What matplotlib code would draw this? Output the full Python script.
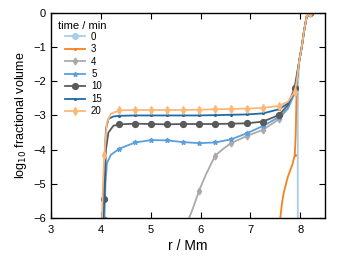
import numpy as np
import matplotlib
matplotlib.use("Agg")
import matplotlib.pyplot as plt

plt.rcParams['font.family'] = ['Liberation Sans', 'DejaVu Sans']

# Marker positions (r / Mm)
r_marks = [4.07, 4.37, 4.69, 5.01, 5.33, 5.65, 5.97, 6.29, 6.61, 6.93, 7.25, 7.57, 7.89, 8.2]

top_r = [7.93, 7.98, 8.03, 8.08, 8.13, 8.2]
top_y = [-2.0, -1.4, -1.0, -0.5, -0.1, 0.0]

labels = ['0', '3', '4', '5', '10', '15', '20']

r0 = [7.95, 7.95, 7.96] + top_r[1:]
y0 = [-6.0, -3.0, -2.0] + top_y[1:]

r3 = [7.6, 7.63, 7.67, 7.75, 7.85, 7.89, 7.91] + top_r
y3 = [-6.0, -5.6, -5.25, -4.8, -4.4, -4.15, -3.5] + top_y

r4 = [5.77, 5.85, 5.97, 6.1, 6.29, 6.45, 6.61, 6.93, 7.25, 7.57, 7.75, 7.89] + top_r[1:]
y4 = [-6.0, -5.7, -5.2, -4.75, -4.18, -3.98, -3.81, -3.6, -3.42, -3.11, -2.8, -2.14] + top_y[1:]

r5 = [4.07, 4.09, 4.12, 4.2, 4.37, 4.69, 5.01, 5.33, 5.65, 5.97, 6.29, 6.61, 6.93, 7.25, 7.57, 7.75, 7.89] + top_r
y5 = [-6.0, -5.0, -4.4, -4.15, -3.97, -3.79, -3.72, -3.73, -3.78, -3.81, -3.79, -3.70, -3.52, -3.31, -3.05, -2.8, -2.35] + top_y

r10 = [4.04, 4.07, 4.1, 4.15, 4.25, 4.37, 4.69, 5.01, 5.33, 5.65, 5.97, 6.29, 6.61, 6.93, 7.25, 7.57, 7.75, 7.89] + top_r[1:]
y10 = [-6.0, -5.45, -4.0, -3.5, -3.3, -3.26, -3.24, -3.25, -3.26, -3.25, -3.25, -3.25, -3.24, -3.23, -3.18, -2.99, -2.7, -2.2] + top_y[1:]

r15 = [4.05, 4.07, 4.1, 4.15, 4.25, 4.37, 4.69, 5.01, 5.33, 5.65, 5.97, 6.29, 6.61, 6.93, 7.25, 7.57, 7.75, 7.89] + top_r
y15 = [-6.0, -4.5, -3.4, -3.1, -3.03, -3.01, -3.0, -3.0, -3.0, -3.0, -3.0, -2.99, -2.98, -2.97, -2.94, -2.82, -2.65, -2.3] + top_y

r20 = [4.02, 4.04, 4.07, 4.12, 4.2, 4.37, 4.69, 5.01, 5.33, 5.65, 5.97, 6.29, 6.61, 6.93, 7.25, 7.57, 7.75, 7.89] + top_r
y20 = [-6.0, -5.0, -4.15, -3.2, -2.95, -2.85, -2.84, -2.84, -2.84, -2.84, -2.83, -2.82, -2.81, -2.80, -2.78, -2.72, -2.6, -2.3] + top_y

series = [(r0, y0), (r3, y3), (r4, y4), (r5, y5), (r10, y10), (r15, y15), (r20, y20)]
colors = ['#a8cdec', '#f7821b', '#aaaaaa', '#5b9fdc', '#5a5a5a', '#1f6ba6', '#fdb878']
markers = ['o', '.', 'd', '*', 'o', '.', 'd']
msizes = [4, 2.5, 3.5, 3.5, 4.2, 2.5, 4]

fig = plt.figure(figsize=(3.43, 2.58), dpi=100)
ax = fig.add_axes([0.149, 0.155, 0.799, 0.795])

for (r, y), c, m, ms, lab in zip(series, colors, markers, msizes, labels):
    r = np.asarray(r); y = np.asarray(y)
    mask = np.array([np.any(np.isclose(v, r_marks, atol=1e-3)) for v in r])
    ax.plot(r, y, color=c, marker=m, markersize=ms, lw=1.3,
            markevery=list(np.where(mask)[0]), label=lab)

ax.set_xlim(3, 8.5)
ax.set_ylim(-6, 0)
ax.set_xticks([3, 4, 5, 6, 7, 8])
ax.set_yticks([-6, -5, -4, -3, -2, -1, 0])
ax.set_yticklabels(['\u22126', '\u22125', '\u22124', '\u22123', '\u22122', '\u22121', '0'])
ax.tick_params(direction='in', top=True, right=True, labelsize=8, length=4, width=0.8)
ax.tick_params(axis='x', pad=5)
for s in ax.spines.values():
    s.set_linewidth(1.0)
ax.set_xlabel('r / Mm', fontsize=10, labelpad=3)
ax.set_ylabel('log$_{10}$ fractional volume', fontsize=9, labelpad=3)

ax.text(0.025, 0.935, 'time / min', transform=ax.transAxes, fontsize=8,
        ha='left', va='center')
leg = ax.legend(loc='upper left', frameon=False, fontsize=7,
                handlelength=2.1, labelspacing=0.25,
                borderaxespad=0.0, borderpad=0.0, handletextpad=0.6,
                bbox_to_anchor=(0.05, 0.908))

fig.savefig('out.png', dpi=100)
